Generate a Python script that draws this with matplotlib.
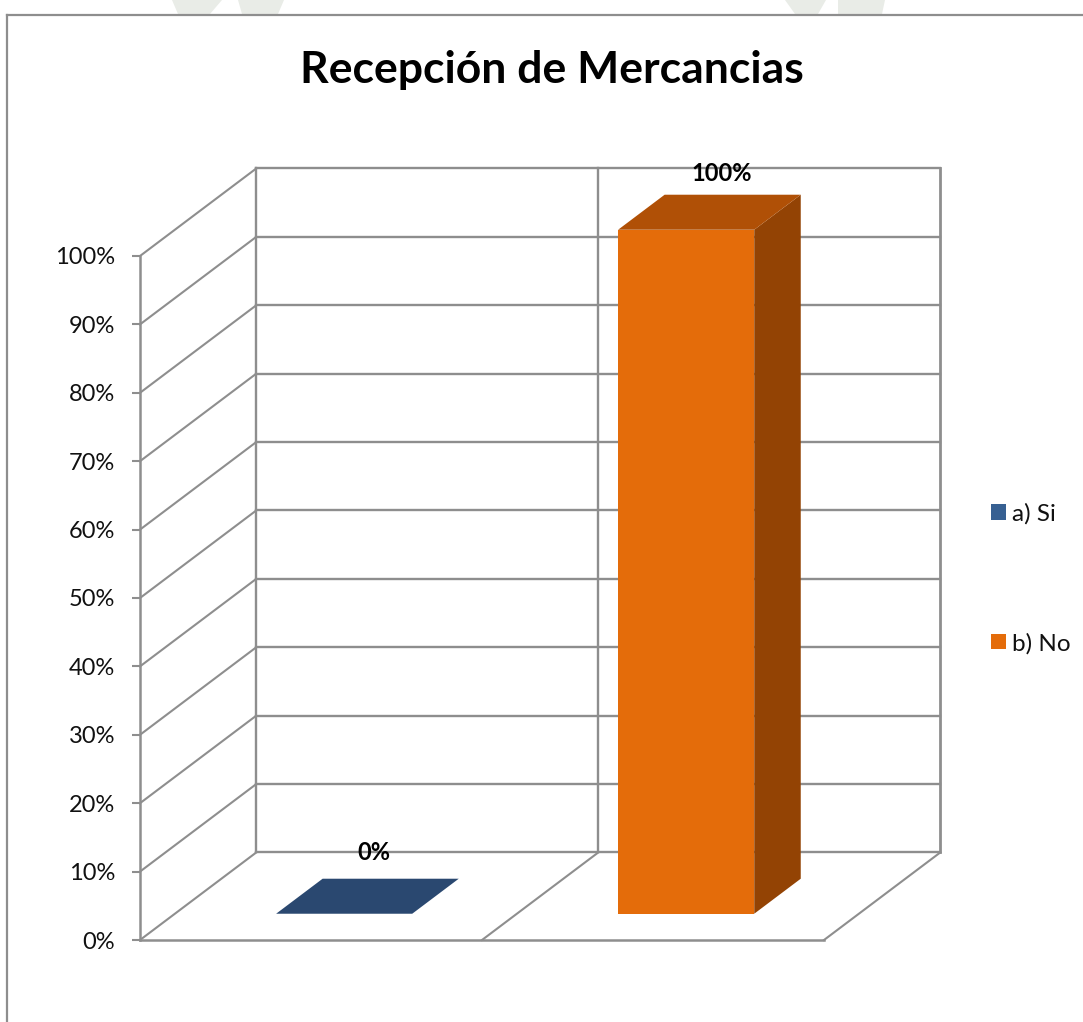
import matplotlib
matplotlib.use("Agg")
import matplotlib.pyplot as plt
from matplotlib.patches import Polygon, Patch
from matplotlib.lines import Line2D

plt.rcParams['font.family'] = ['Lato', 'DejaVu Sans']

title = "Recepción de Mercancias"
categories = ["a) Si", "b) No"]
values = [0, 100]
ticks = [0, 10, 20, 30, 40, 50, 60, 70, 80, 90, 100]
tick_labels = ["0%", "10%", "20%", "30%", "40%", "50%", "60%", "70%", "80%", "90%", "100%"]
value_labels = ["0%", "100%"]

front_colors = ["#2a4870", "#e46c0a"]
top_colors = ["#2a4870", "#b05006"]
side_colors = ["#2a4870", "#934304"]
legend_colors = ["#376092", "#e46c0a"]
GRID = "#8e8e8e"

W, H = 1083, 1022
fig = plt.figure(figsize=(W / 100, H / 100), dpi=100, facecolor="white")
ax = fig.add_axes([140 / W, (H - 940) / H, 684 / W, 684 / H])
ax.set_xlim(0, len(categories))
ax.set_ylim(0, 100)
ax.patch.set_alpha(0)

DX, DY = 0.34, 12.8   # depth of the floor, in axis units


def proj(x, y, d=0.0):
    return (x + d * DX, y + d * DY)


def line(p, q, lw=1.7):
    ax.add_line(Line2D([p[0], q[0]], [p[1], q[1]], color=GRID, lw=lw, clip_on=False, zorder=1))


n = len(categories)
for t in ticks:
    line(proj(0, t), proj(0, t, 1), lw=1.5)
    line(proj(0, t, 1), proj(n, t, 1))
for c in range(1, n + 1):
    line(proj(c, 0), proj(c, 0, 1), lw=1.5)
for c in range(0, n + 1):
    line(proj(c, 0, 1), proj(c, 100, 1), lw=2.0 if c == n else 1.7)

GAP, BW, D0, D1 = 0.296, 0.398, 0.3, 0.7
for i, v in enumerate(values):
    l, r = i + GAP, i + GAP + BW
    if v > 0:
        ax.add_patch(Polygon([proj(r, 0, D0), proj(r, 0, D1), proj(r, v, D1), proj(r, v, D0)],
                             fc=side_colors[i], ec="none", clip_on=False, zorder=3))
        ax.add_patch(Polygon([proj(l, 0, D0), proj(r, 0, D0), proj(r, v, D0), proj(l, v, D0)],
                             fc=front_colors[i], ec="none", clip_on=False, zorder=3))
    ax.add_patch(Polygon([proj(l, v, D0), proj(r, v, D0), proj(r, v, D1), proj(l, v, D1)],
                         fc=top_colors[i], ec="none", clip_on=False, zorder=3))

label_offsets = [(6, 44), (12, 39)]
for i, v in enumerate(values):
    x, y = proj(i + GAP + BW / 2, v, 0.5)
    dx, dy = label_offsets[i]
    ax.annotate(value_labels[i], (x, y), xytext=(dx * 0.72, dy * 0.72), textcoords="offset points",
                ha="center", va="center", fontsize=17, fontweight="bold", color="black",
                annotation_clip=False, zorder=4)

ax.set_xticks([])
ax.set_yticks(ticks)
ax.set_yticklabels(tick_labels, fontsize=17, color="#111111")
ax.tick_params(axis="y", length=5.8, width=1.5, color=GRID, pad=12)
for s in ["top", "right"]:
    ax.spines[s].set_visible(False)
for s in ["left", "bottom"]:
    ax.spines[s].set_color(GRID)
    ax.spines[s].set_linewidth(1.8)

fig.text(552 / W, 1 - 70 / H, title, ha="center", va="center", fontsize=32, fontweight="bold", color="black")

# chart frame, open on the right and at the bottom
fig.add_artist(Line2D([7 / W, 7 / W], [0, 1 - 15.5 / H], color=GRID, lw=1.6))
fig.add_artist(Line2D([7 / W, 1], [1 - 15.5 / H, 1 - 15.5 / H], color=GRID, lw=1.6))

# faint background watermark cut off by the frame
for xs in ([172, 222, 210, 178], [238, 284, 278, 242], [785, 826, 818, 795], [838, 885, 882, 838]):
    ys = [0, 0, 14, 14]
    fig.add_artist(Polygon([(x / W, 1 - y / H) for x, y in zip(xs, ys)], closed=True,
                           transform=fig.transFigure, fc="#e9ece7", ec="none"))

handles = [Patch(fc=c, ec="none") for c in legend_colors]
fig.legend(handles, categories, loc="center left", bbox_to_anchor=(991 / W, 1 - 578.5 / H),
           frameon=False, fontsize=17.5, handlelength=0.62, handleheight=0.62,
           handletextpad=0.25, labelspacing=4.45, labelcolor="#111111", borderpad=0, borderaxespad=0)

fig.savefig("out.png", dpi=100, facecolor="white")
